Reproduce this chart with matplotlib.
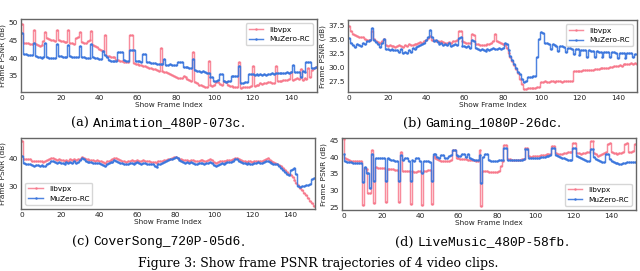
import matplotlib
matplotlib.use("Agg")
import matplotlib.pyplot as plt
from matplotlib.offsetbox import TextArea, HPacker, AnnotationBbox

# ---------------- data ----------------
anim_libvpx = [49.7, 44.3, 44.2, 44.2, 44.0, 43.9, 47.8, 43.9, 43.6, 43.5,
 43.8, 44.8, 47.4, 45.6, 45.4, 45.2, 45.0, 44.9, 48.0, 45.0,
 44.8, 44.7, 44.6, 44.5, 48.0, 44.4, 44.2, 44.0, 45.8, 45.9,
 47.3, 44.5, 44.3, 44.2, 44.8, 45.0, 47.7, 43.6, 43.3, 43.0,
 42.6, 42.3, 42.0, 46.6, 40.7, 40.6, 40.4, 40.3, 40.2, 39.6,
 39.5, 39.3, 39.2, 39.0, 38.9, 38.8, 46.6, 46.6, 38.6, 38.4,
 38.3, 38.2, 38.0, 37.9, 37.7, 37.5, 37.3, 37.2, 37.0, 36.9,
 36.7, 36.5, 42.9, 36.4, 36.2, 36.0, 35.8, 35.6, 35.3, 35.0,
 34.7, 34.5, 34.3, 34.4, 34.9, 34.6, 34.2, 33.8, 33.6, 41.8,
 33.2, 32.9, 32.6, 32.4, 32.2, 32.0, 31.8, 39.2, 32.4, 32.3,
 32.5, 33.4, 33.3, 32.8, 32.6, 33.6, 33.4, 32.4, 32.2, 32.1,
 32.0, 31.9, 31.8, 38.8, 31.6, 31.8, 32.0, 31.9, 32.0, 32.1,
 37.8, 32.3, 32.4, 32.5, 33.0, 32.8, 32.9, 33.0, 33.4, 33.2,
 33.0, 33.1, 37.8, 33.5, 33.6, 33.7, 33.8, 33.8, 34.0, 34.1,
 36.2, 34.0, 34.1, 34.3, 34.2, 36.9, 34.0, 34.3, 34.2, 37.2,
 34.6, 36.8, 37.3, 37.4]
anim_muzero = [47.2, 41.2, 41.1, 41.0, 41.0, 40.9, 44.2, 40.6, 40.4, 40.2,
 40.1, 40.3, 44.2, 40.3, 40.1, 40.0, 40.0, 40.1, 44.0, 40.6,
 40.5, 40.4, 40.4, 40.3, 43.8, 40.5, 40.4, 40.3, 40.2, 40.2,
 43.4, 40.3, 40.2, 40.1, 40.1, 40.0, 43.9, 40.3, 40.1, 40.0,
 39.9, 39.8, 42.0, 41.0, 40.2, 39.4, 39.3, 39.2, 39.2, 39.3,
 41.8, 41.8, 41.8, 39.4, 39.2, 39.1, 42.2, 42.2, 42.2, 39.3,
 39.2, 39.1, 39.0, 41.3, 41.3, 38.9, 38.8, 38.7, 38.7, 38.6,
 38.5, 38.4, 38.4, 38.3, 39.8, 38.0, 38.2, 38.3, 38.2, 38.1,
 38.0, 39.0, 39.0, 39.0, 37.5, 37.4, 37.4, 37.3, 37.2, 39.8,
 36.6, 36.5, 36.4, 36.2, 36.3, 36.0, 35.9, 35.8, 34.8, 34.6,
 33.6, 33.5, 34.0, 35.5, 35.5, 33.6, 33.4, 33.5, 33.6, 34.9,
 35.0, 35.1, 35.0, 37.8, 33.0, 33.1, 33.3, 33.2, 35.6, 35.6,
 35.5, 35.4, 35.5, 35.4, 35.5, 35.4, 35.5, 35.4, 35.5, 35.6,
 35.7, 35.6, 35.7, 35.8, 35.8, 35.9, 35.8, 35.9, 36.0, 35.9,
 36.0, 38.2, 36.1, 36.2, 36.2, 34.8, 36.3, 36.2, 38.8, 38.9,
 38.9, 37.3, 37.2, 37.4]

gaming_libvpx = [37.3, 36.4, 36.0, 35.8, 35.5, 35.4, 35.3, 35.3, 35.0, 34.9,
 34.8, 34.9, 36.4, 35.0, 34.7, 34.5, 34.3, 34.6, 35.0, 33.9,
 33.8, 33.9, 33.7, 33.8, 33.6, 33.8, 34.0, 33.7, 33.6, 33.9,
 33.8, 34.1, 33.9, 34.0, 34.2, 34.1, 34.3, 34.5, 34.4, 34.6,
 34.8, 35.2, 35.6, 34.9, 34.8, 34.7, 34.6, 34.5, 34.7, 34.5,
 34.4, 34.3, 34.5, 34.4, 34.6, 34.7, 34.9, 36.4, 36.5, 34.6,
 34.5, 34.4, 34.4, 34.3, 35.9, 35.8, 34.2, 34.1, 34.0, 33.9,
 33.9, 34.0, 34.2, 34.1, 34.3, 34.6, 36.0, 34.7, 34.5, 34.3,
 34.2, 34.0, 33.5, 32.6, 31.8, 31.2, 30.4, 29.7, 29.0, 28.0,
 27.0, 26.2, 26.2, 26.3, 26.3, 26.4, 26.4, 26.4, 26.5, 26.5,
 27.4, 27.4, 27.5, 27.4, 27.4, 27.5, 27.5, 27.4, 27.5, 27.5,
 27.5, 27.4, 27.5, 27.5, 27.5, 27.6, 27.5, 29.3, 29.3, 29.4,
 29.4, 29.4, 29.5, 29.5, 29.5, 29.6, 29.6, 29.6, 29.7, 29.7,
 29.7, 29.8, 29.8, 29.8, 29.9, 29.9, 30.0, 30.0, 30.2, 30.3,
 30.3, 30.4, 30.3, 30.5, 30.6, 30.5, 30.6, 30.7, 30.5, 30.7,
 30.6]
gaming_muzero = [35.2, 34.3, 33.9, 33.6, 34.2, 34.0, 33.8, 34.3, 34.2, 34.6,
 34.7, 34.8, 37.0, 34.8, 34.5, 34.2, 33.6, 34.4, 35.0, 33.2,
 33.2, 33.1, 33.3, 33.0, 33.1, 33.0, 32.8, 33.2, 32.6, 32.8,
 32.5, 33.0, 32.7, 33.4, 33.3, 33.6, 33.8, 34.0, 34.1, 34.4,
 34.8, 35.4, 36.7, 35.3, 34.7, 34.9, 34.5, 34.2, 34.4, 34.0,
 34.1, 33.9, 34.3, 33.8, 34.0, 34.2, 33.9, 35.2, 35.3, 33.8,
 33.7, 33.6, 33.8, 33.5, 34.8, 34.7, 33.4, 33.2, 33.1, 33.3,
 33.0, 32.9, 33.2, 33.0, 33.3, 33.4, 33.2, 33.3, 33.4, 33.3,
 33.5, 34.3, 34.2, 33.0, 32.0, 31.3, 30.6, 29.9, 29.2, 28.8,
 28.0, 27.3, 27.6, 28.2, 28.3, 28.3, 28.4, 28.4, 31.8, 35.0,
 36.3, 36.1, 34.4, 34.3, 34.2, 33.2, 34.1, 34.0, 33.8, 32.9,
 33.8, 33.7, 33.6, 32.7, 33.5, 33.4, 33.3, 32.3, 33.2, 33.2,
 32.1, 33.1, 33.0, 33.0, 31.9, 33.0, 32.9, 32.9, 31.8, 32.9,
 32.8, 32.8, 31.8, 32.8, 32.7, 32.7, 31.8, 32.7, 32.7, 32.6,
 31.7, 32.6, 32.6, 32.5, 31.7, 32.6, 32.5, 32.5, 31.8, 32.4,
 32.4]

cover_libvpx = [46.0, 39.8, 39.7, 39.6, 39.6, 39.2, 39.1, 39.2, 39.0, 38.9,
 39.0, 38.8, 38.9, 39.3, 39.6, 40.2, 40.0, 39.8, 39.5, 39.6,
 39.3, 39.4, 39.1, 39.5, 39.2, 39.6, 39.4, 39.8, 39.5, 39.7,
 39.9, 40.3, 40.2, 39.8, 39.6, 39.4, 39.5, 39.3, 39.2, 39.3,
 39.1, 38.9, 38.6, 38.5, 38.9, 39.2, 39.5, 39.8, 40.2, 40.0,
 39.7, 39.4, 39.2, 39.0, 38.8, 38.9, 39.1, 39.3, 39.0, 39.2,
 39.4, 39.1, 39.0, 39.3, 39.1, 38.9, 39.0, 38.7, 38.8, 38.6,
 38.4, 38.9, 39.0, 39.2, 39.4, 39.5, 39.7, 39.9, 40.1, 40.3,
 40.3, 40.1, 39.8, 39.6, 39.5, 39.3, 39.4, 39.2, 39.5, 39.3,
 39.1, 39.0, 39.2, 39.4, 39.3, 39.1, 39.2, 39.4, 39.6, 39.3,
 38.8, 38.3, 38.6, 38.9, 39.2, 39.0, 39.1, 39.4, 39.5, 39.3,
 39.7, 40.1, 40.2, 39.8, 39.4, 39.2, 39.0, 38.8, 39.1, 38.9,
 38.7, 38.9, 39.0, 39.2, 38.9, 39.0, 39.3, 39.6, 40.0, 39.5,
 38.9, 38.6, 38.4, 38.1, 37.7, 37.1, 36.5, 35.9, 35.2, 34.6,
 34.0, 33.2, 32.3, 31.3, 30.4, 29.5, 28.6, 27.7, 26.8, 25.8,
 24.9, 24.0, 23.2]
cover_muzero = [40.8, 38.2, 38.0, 38.1, 37.8, 37.5, 37.3, 37.6, 37.5, 37.2,
 37.6, 37.4, 37.3, 37.8, 38.4, 39.2, 39.0, 38.7, 38.4, 38.6,
 38.2, 38.5, 38.0, 38.6, 38.3, 38.7, 38.4, 38.9, 38.5, 38.8,
 39.3, 40.2, 39.9, 39.2, 38.8, 38.6, 38.7, 38.4, 38.3, 38.5,
 38.2, 37.9, 37.5, 37.4, 37.8, 38.3, 38.6, 38.8, 39.3, 39.1,
 38.8, 38.5, 38.3, 38.0, 37.8, 37.9, 38.2, 38.5, 37.8, 38.3,
 38.6, 38.2, 38.0, 38.5, 38.2, 38.0, 38.1, 37.8, 37.9, 37.3,
 36.9, 37.8, 38.0, 38.5, 38.8, 39.0, 39.3, 39.6, 39.9, 40.2,
 40.3, 40.0, 39.5, 39.0, 38.8, 38.5, 38.7, 38.3, 38.6, 38.4,
 38.1, 38.0, 38.3, 38.5, 38.4, 38.0, 38.3, 38.5, 38.7, 38.4,
 37.6, 37.2, 37.6, 38.0, 38.4, 38.1, 38.3, 38.6, 38.8, 38.6,
 39.0, 39.6, 39.8, 39.2, 38.7, 38.4, 38.2, 38.0, 38.4, 38.1,
 37.9, 38.2, 38.4, 38.6, 38.3, 38.5, 38.7, 38.9, 39.2, 38.8,
 38.3, 38.1, 38.0, 37.8, 37.3, 36.6, 35.8, 35.3, 34.6, 34.0,
 35.8, 36.3, 36.5, 34.5, 30.0, 29.9, 30.1, 30.3, 30.4, 30.6,
 30.9, 32.8, 33.0]

live_libvpx = [45.2, 39.8, 39.3, 39.0, 38.9, 38.9, 38.8, 38.8, 38.9, 38.9,
 26.0, 36.8, 36.5, 29.5, 29.5, 42.0, 26.5, 37.0, 36.9, 36.9,
 36.8, 36.8, 26.7, 36.6, 36.5, 36.4, 36.4, 36.3, 36.3, 26.8,
 41.5, 36.0, 35.9, 35.8, 35.8, 26.3, 35.8, 35.7, 35.7, 35.8,
 35.8, 26.0, 35.9, 36.0, 36.1, 36.2, 26.3, 40.3, 39.8, 39.4,
 39.1, 38.9, 38.8, 38.7, 38.7, 38.8, 39.0, 42.2, 42.0, 39.6,
 39.6, 39.5, 39.4, 39.3, 39.3, 39.2, 39.1, 39.0, 39.0, 38.9,
 38.8, 42.2, 25.6, 36.0, 35.9, 35.8, 35.7, 35.6, 35.6, 35.5,
 35.6, 35.8, 37.5, 38.8, 43.5, 43.4, 39.4, 39.3, 39.2, 39.2,
 39.1, 39.1, 39.2, 39.3, 39.4, 42.7, 42.6, 40.2, 40.1, 40.2,
 40.3, 40.4, 40.4, 40.5, 40.6, 40.7, 40.8, 40.9, 41.0, 43.2,
 43.3, 41.2, 41.0, 40.9, 41.0, 41.1, 41.2, 41.4, 41.5, 41.6,
 44.0, 44.1, 41.3, 41.1, 41.0, 41.1, 41.2, 41.4, 41.6, 44.7,
 44.6, 41.2, 40.9, 40.2, 40.6, 40.9, 41.2, 41.4, 43.9, 44.0,
 41.5, 41.2, 41.1, 41.0, 41.2, 41.3, 41.5, 43.9, 44.0, 41.6,
 41.5, 41.8, 43.8]
live_muzero = [41.0, 38.8, 38.6, 38.5, 38.4, 38.3, 38.3, 38.2, 38.2, 38.2,
 32.7, 37.0, 35.3, 35.2, 31.0, 40.8, 32.8, 39.8, 39.8, 39.7,
 39.6, 39.6, 32.8, 39.6, 39.5, 39.2, 39.0, 38.9, 38.8, 32.8,
 40.5, 39.0, 39.8, 39.8, 38.8, 32.8, 39.0, 38.9, 39.8, 39.8,
 38.9, 35.3, 38.8, 38.8, 38.7, 38.6, 32.8, 40.8, 40.8, 40.0,
 39.8, 40.6, 40.6, 39.7, 39.6, 40.4, 40.5, 42.0, 42.1, 40.5,
 40.3, 40.2, 41.0, 41.0, 40.0, 40.8, 39.6, 39.4, 39.2, 39.1,
 39.0, 40.5, 32.3, 40.0, 40.8, 40.8, 39.0, 38.9, 38.8, 38.8,
 38.9, 39.0, 39.0, 39.1, 42.7, 42.6, 39.2, 39.1, 39.1, 39.0,
 39.0, 39.0, 39.1, 39.2, 39.3, 42.5, 42.4, 39.8, 39.7, 39.6,
 39.6, 39.7, 39.8, 39.9, 40.0, 40.1, 40.2, 40.4, 40.6, 42.7,
 42.8, 40.5, 40.2, 40.0, 39.8, 39.6, 39.4, 39.2, 39.1, 39.0,
 42.7, 42.6, 40.3, 39.9, 39.6, 39.3, 39.0, 38.8, 38.7, 42.5,
 42.4, 40.0, 39.5, 39.1, 38.8, 38.5, 38.4, 40.8, 40.8, 39.3,
 38.9, 38.6, 38.3, 38.1, 38.0, 37.9, 38.1, 38.3, 38.4, 38.4,
 38.4, 38.5, 38.4]

series_names = ["libvpx", "MuZero-RC"]
x_ticks = [0, 20, 40, 60, 80, 100, 120, 140]
anim_yticks = [35, 40, 45, 50]
gaming_yticks = [27.5, 30.0, 32.5, 35.0, 37.5]
cover_yticks = [30, 40]
live_yticks = [25, 30, 35, 40, 45]
captions = [("(a)", "Animation_480P-073c"), ("(b)", "Gaming_1080P-26dc"),
            ("(c)", "CoverSong_720P-05d6"), ("(d)", "LiveMusic_480P-58fb")]
fig_caption = "Figure 3: Show frame PSNR trajectories of 4 video clips."

# ---------------- style ----------------
RED = "#f7788b"
BLUE = "#3b76dd"
W, H = 640, 271

fig = plt.figure(figsize=(6.4, 2.71), dpi=100)


def rect(l, t, r, b):
    return [l / W, 1 - b / H, (r - l) / W, (b - t) / H]


panels = [
    dict(rect=rect(21, 19, 317, 92), red=anim_libvpx, blue=anim_muzero,
         xlim=(-0.7, 153.5), ylim=(30.5, 51.0), yticks=anim_yticks, fmt="%d", loc="upper right"),
    dict(rect=rect(348, 20, 637, 92), red=gaming_libvpx, blue=gaming_muzero,
         xlim=(-0.7, 150.0), ylim=(25.6, 38.4), yticks=gaming_yticks, fmt="%.1f", loc="upper right"),
    dict(rect=rect(21, 138, 315, 209), red=cover_libvpx, blue=cover_muzero,
         xlim=(-0.7, 152.7), ylim=(22.0, 47.2), yticks=cover_yticks, fmt="%d", loc="lower left"),
    dict(rect=rect(342, 138, 636, 210), red=live_libvpx, blue=live_muzero,
         xlim=(-0.8, 152.7), ylim=(24.4, 45.6), yticks=live_yticks, fmt="%d", loc="lower right"),
]

FS = 5.3
for p in panels:
    ax = fig.add_axes(p["rect"])
    xr = list(range(len(p["red"])))
    xb = list(range(len(p["blue"])))
    ax.plot(xr, p["red"], drawstyle="steps-mid", color=RED, lw=1.05, alpha=0.85,
            marker=".", ms=1.6, label=series_names[0])
    ax.plot(xb, p["blue"], drawstyle="steps-mid", color=BLUE, lw=1.05, alpha=0.9,
            marker=".", ms=1.6, label=series_names[1])
    ax.set_xlim(*p["xlim"])
    ax.set_ylim(*p["ylim"])
    ax.set_xticks(x_ticks)
    ax.set_yticks(p["yticks"])
    ax.set_yticklabels([p["fmt"] % v for v in p["yticks"]])
    ax.tick_params(length=0, labelsize=FS, pad=2.2, colors="#222222")
    for s in ax.spines.values():
        s.set_color("#666666")
        s.set_linewidth(1.0)
    ax.set_xlabel("Show Frame Index", fontsize=FS, labelpad=0.5, color="#222222")
    ax.set_ylabel("Frame PSNR (dB)", fontsize=FS, labelpad=2, color="#222222")
    ax.legend(loc=p["loc"], fontsize=FS, frameon=True, fancybox=True,
              edgecolor="#cccccc", borderaxespad=0.6)


def caption(x_px, y_px, label, code, size=9.3):
    t1 = TextArea(label, textprops=dict(family="DejaVu Serif", size=size, color="black"))
    t2 = TextArea(code, textprops=dict(family="Liberation Mono", size=size, color="black"))
    t3 = TextArea(".", textprops=dict(family="DejaVu Serif", size=size, color="black"))
    inner = HPacker(children=[t1, t2], sep=3, pad=0, align="baseline")
    box = HPacker(children=[inner, t3], sep=0, pad=0, align="baseline")
    ab = AnnotationBbox(box, (x_px / W, 1 - y_px / H), xycoords="figure fraction",
                        frameon=False, box_alignment=(0.5, 0.5), pad=0)
    fig.add_artist(ab)


caption(158, 123, *captions[0])
caption(482, 123, *captions[1])
caption(158, 242, *captions[2])
caption(482, 242, *captions[3])

fig.text(318 / W, 1.5 / H, fig_caption, family="DejaVu Serif", fontsize=9.0,
         ha="center", va="bottom")

fig.savefig("out.png", dpi=100)
